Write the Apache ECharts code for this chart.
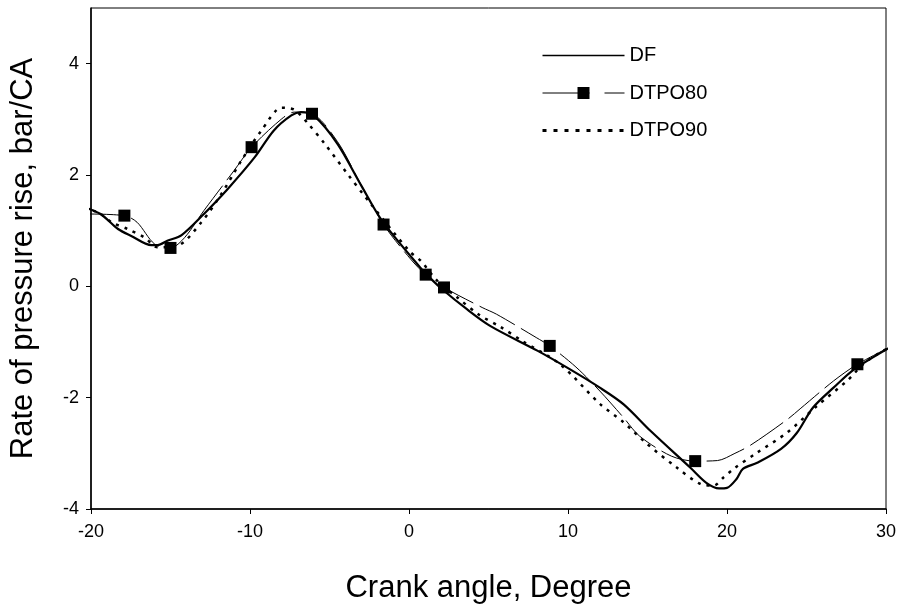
<!DOCTYPE html>
<html>
<head>
<meta charset="utf-8">
<script src="https://cdn.jsdelivr.net/npm/echarts@6/dist/echarts.min.js"></script>
<style>
  html, body { margin: 0; padding: 0; background: #fff; }
  #chart { width: 904px; height: 613px; }
</style>
</head>
<body>
<div id="chart"></div>
<script>
// Crank angle (deg) and rate of pressure rise (bar/CA) for each fuel
const dfX = [-20.4, -19.4, -18.3, -17.5, -16.2, -15.8, -15.2, -14.3, -12.9, -11.4, -9.7, -8.5, -7.4, -6.8, -6.0, -4.5, -3.0, -1.7, 0.7, 1.4, 2.2, 3.5, 5.1, 8.1, 10.0, 12.0, 13.5, 15.2, 17.7, 18.7, 19.5, 20.0, 20.6, 21.0, 21.9, 23.4, 24.4, 25.4, 26.7, 28.0, 30.6];
const dfY = [1.42, 1.30, 1.03, 0.91, 0.74, 0.74, 0.82, 0.92, 1.30, 1.75, 2.32, 2.80, 3.07, 3.13, 3.07, 2.56, 1.81, 1.18, 0.34, 0.13, -0.08, -0.38, -0.71, -1.16, -1.47, -1.82, -2.12, -2.60, -3.26, -3.53, -3.63, -3.62, -3.46, -3.28, -3.17, -2.92, -2.63, -2.18, -1.82, -1.49, -1.04];

const dtpo80X = [-20.4, -17.9, -17.1, -16.0, -15.0, -14.1, -12.9, -11.0, -9.9, -8.0, -7.2, -6.1, -4.5, -3.1, -1.6, 0.1, 1.05, 2.2, 4.6, 5.5, 8.0, 8.85, 10.5, 12.0, 13.5, 14.5, 16.5, 18.0, 19.4, 20.5, 21.5, 23.8, 24.6, 26.7, 28.2, 30.6];
const dtpo80Y = [1.30, 1.27, 1.15, 0.76, 0.69, 0.88, 1.36, 2.08, 2.50, 3.01, 3.13, 3.10, 2.60, 1.87, 1.11, 0.49, 0.21, -0.02, -0.38, -0.50, -0.92, -1.07, -1.45, -1.88, -2.36, -2.69, -3.05, -3.14, -3.13, -3.00, -2.85, -2.39, -2.20, -1.70, -1.40, -1.04];
// crank angles at which DTPO80 carries a square marker
const dtpo80MarkerX = [-17.9, -15.0, -9.9, -6.1, -1.6, 1.05, 2.2, 8.85, 18.0, 28.2];

const dtpo90X = [-20.4, -19.4, -18.7, -17.7, -16.65, -15.8, -14.55, -13.06, -11.8, -10.54, -9.28, -8.0, -7.2, -6.34, -5.3, -3.87, -2.4, 0.0, 0.73, 1.78, 3.04, 4.4, 5.76, 7.12, 9.5, 12.04, 13.4, 14.97, 16.86, 18.32, 19.16, 19.79, 20.41, 21.88, 23.77, 25.65, 27.54, 28.8, 30.6];
const dtpo90Y = [1.42, 1.30, 1.15, 1.03, 0.88, 0.70, 0.73, 1.15, 1.66, 2.26, 2.80, 3.21, 3.17, 2.92, 2.56, 2.02, 1.48, 0.64, 0.46, 0.10, -0.20, -0.51, -0.73, -0.98, -1.40, -2.12, -2.42, -2.83, -3.26, -3.55, -3.58, -3.43, -3.28, -2.99, -2.63, -2.15, -1.70, -1.34, -1.04];

const xTicks = [-20, -10, 0, 10, 20, 30];
const yTicks = [-4, -2, 0, 2, 4];

const pairs = (xs, ys) => xs.map((x, i) => [x, ys[i]]);
const dtpo80Data = dtpo80X.map((x, i) => ({
  value: [x, dtpo80Y[i]],
  symbol: dtpo80MarkerX.includes(x) ? 'rect' : 'none'
}));

const font = 'Liberation Sans, Arial, sans-serif';
const chart = echarts.init(document.getElementById('chart'), null, { renderer: 'canvas' });

chart.setOption({
  animation: false,
  backgroundColor: '#fff',
  grid: {
    left: 90, right: 18, top: 8, bottom: 104,
    show: true, borderColor: '#000', borderWidth: 1, backgroundColor: 'transparent'
  },
  legend: {
    orient: 'vertical',
    left: 536, top: 40.5, padding: 5,
    itemWidth: 82, itemHeight: 15, itemGap: 17.5,
    textStyle: { fontFamily: font, fontSize: 20, color: '#000' },
    data: [
      { name: 'DF', itemStyle: { opacity: 0 }, lineStyle: { width: 1.5, type: 'solid' } },
      { name: 'DTPO80', lineStyle: { width: 1, type: [47, 15] } },
      { name: 'DTPO90', itemStyle: { opacity: 0 }, lineStyle: { width: 3, type: [4, 7] } }
    ]
  },
  xAxis: {
    type: 'value', min: -20, max: 30, interval: 10,
    name: 'Crank angle, Degree', nameLocation: 'middle', nameGap: 64,
    nameTextStyle: { fontFamily: font, fontSize: 31, color: '#000' },
    axisLine: { onZero: false, lineStyle: { color: '#000', width: 1.5 } },
    axisTick: { show: true, length: 5, lineStyle: { color: '#000' }, customValues: xTicks },
    axisLabel: { fontFamily: font, fontSize: 18, color: '#000', margin: 14, customValues: xTicks },
    splitLine: { show: false }
  },
  yAxis: {
    type: 'value', min: -4, max: 5, interval: 2,
    name: 'Rate of pressure rise, bar/CA', nameLocation: 'middle', nameGap: 52,
    nameTextStyle: { fontFamily: font, fontSize: 31, color: '#000' },
    axisLine: { show: true, onZero: false, lineStyle: { color: '#000', width: 1.5 } },
    axisTick: { show: true, length: 5, lineStyle: { color: '#000' }, customValues: yTicks },
    axisLabel: { fontFamily: font, fontSize: 18, color: '#000', margin: 12, customValues: yTicks },
    splitLine: { show: false }
  },
  series: [
    {
      name: 'DF', type: 'line', data: pairs(dfX, dfY),
      smooth: 0.3, symbol: 'none', clip: false,
      lineStyle: { color: '#000', width: 2.2 },
      itemStyle: { color: '#000' }, z: 3
    },
    {
      name: 'DTPO80', type: 'line', data: dtpo80Data,
      smooth: 0.3, symbol: 'rect', symbolSize: 12,
      showSymbol: true, showAllSymbol: true, clip: false,
      lineStyle: { color: '#000', width: 1, type: [40, 7] },
      itemStyle: { color: '#000', borderWidth: 0 }, z: 4
    },
    {
      name: 'DTPO90', type: 'line', data: pairs(dtpo90X, dtpo90Y),
      smooth: 0.3, symbol: 'none', clip: false,
      lineStyle: { color: '#000', width: 2.5, type: [3, 6] },
      itemStyle: { color: '#000' }, z: 2
    }
  ]
});
</script>
</body>
</html>
